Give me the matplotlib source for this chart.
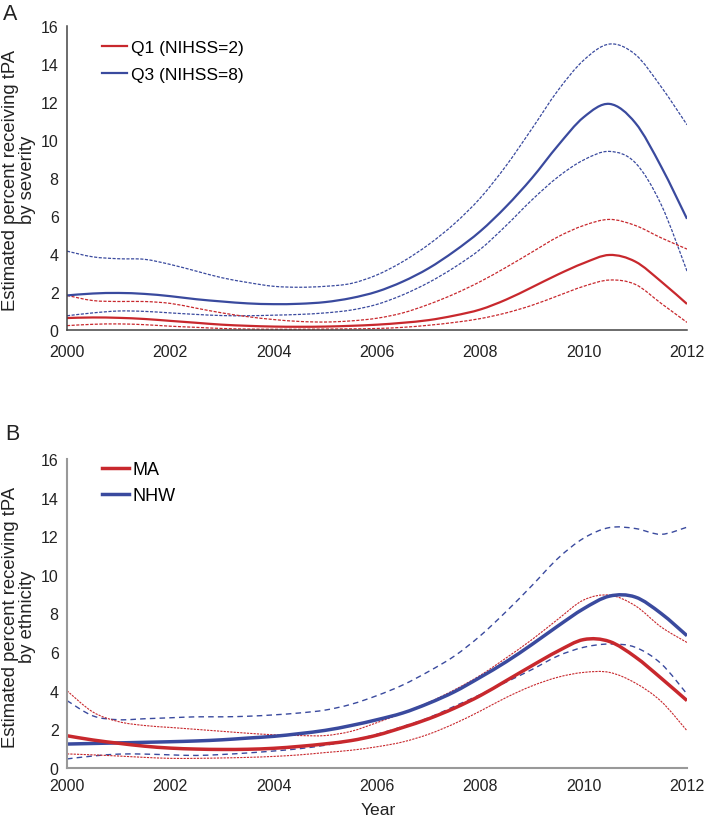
import numpy as np
import matplotlib as mpl
mpl.use("Agg")
import matplotlib.pyplot as plt
from matplotlib.path import Path
from matplotlib.patches import PathPatch
from matplotlib.lines import Line2D

mpl.rcParams['font.family'] = ['Liberation Sans', 'DejaVu Sans']

# ---- data ----
years = [2000 + 0.5 * i for i in range(25)]

# panel A: by severity
q1_mid = [0.63, 0.66, 0.64, 0.58, 0.48, 0.38, 0.28, 0.22, 0.18, 0.17, 0.18, 0.22, 0.28,
          0.38, 0.52, 0.76, 1.08, 1.60, 2.25, 2.92, 3.52, 3.95, 3.60, 2.55, 1.37]
q1_hi = [1.82, 1.55, 1.50, 1.50, 1.40, 1.15, 0.90, 0.70, 0.55, 0.45, 0.42, 0.48, 0.62,
         0.90, 1.35, 1.90, 2.55, 3.30, 4.10, 4.90, 5.50, 5.82, 5.50, 4.85, 4.26]
q1_lo = [0.23, 0.30, 0.32, 0.28, 0.20, 0.14, 0.08, 0.05, 0.04, 0.04, 0.05, 0.06, 0.08,
         0.14, 0.25, 0.40, 0.60, 0.90, 1.30, 1.80, 2.30, 2.63, 2.40, 1.40, 0.40]
q3_mid = [1.82, 1.92, 1.95, 1.90, 1.78, 1.62, 1.50, 1.40, 1.36, 1.38, 1.47, 1.68, 2.02,
          2.55, 3.25, 4.15, 5.20, 6.50, 8.00, 9.70, 11.2, 11.9, 10.9, 8.60, 5.85]
q3_hi = [4.15, 3.85, 3.75, 3.72, 3.45, 3.10, 2.75, 2.50, 2.30, 2.25, 2.30, 2.45, 2.90,
         3.60, 4.50, 5.60, 6.95, 8.65, 10.6, 12.6, 14.2, 15.05, 14.5, 12.8, 10.8]
q3_lo = [0.75, 0.90, 1.00, 0.98, 0.90, 0.82, 0.76, 0.75, 0.78, 0.82, 0.90, 1.05, 1.35,
         1.85, 2.50, 3.30, 4.25, 5.50, 6.85, 8.05, 8.95, 9.40, 8.80, 6.60, 3.10]

# panel B: by ethnicity
ma_mid = [1.67, 1.45, 1.28, 1.13, 1.03, 0.98, 0.96, 0.97, 1.02, 1.12, 1.25, 1.42, 1.70,
          2.10, 2.55, 3.10, 3.75, 4.52, 5.30, 6.05, 6.65, 6.55, 5.75, 4.65, 3.49]
ma_hi = [4.00, 2.90, 2.40, 2.20, 2.10, 2.00, 1.90, 1.80, 1.72, 1.68, 1.68, 1.90, 2.35,
         2.85, 3.40, 4.05, 4.80, 5.70, 6.65, 7.70, 8.70, 8.95, 8.40, 7.30, 6.50]
ma_lo = [0.73, 0.68, 0.62, 0.55, 0.50, 0.50, 0.52, 0.55, 0.60, 0.68, 0.80, 0.92, 1.10,
         1.35, 1.75, 2.30, 2.95, 3.65, 4.25, 4.70, 4.95, 4.95, 4.40, 3.45, 1.93]
nhw_mid = [1.24, 1.27, 1.30, 1.33, 1.36, 1.40, 1.46, 1.55, 1.64, 1.78, 1.95, 2.20, 2.50,
           2.85, 3.35, 3.95, 4.70, 5.50, 6.40, 7.35, 8.25, 8.90, 8.85, 8.00, 6.85]
nhw_hi = [3.49, 2.70, 2.50, 2.55, 2.60, 2.65, 2.65, 2.68, 2.75, 2.85, 3.00, 3.30, 3.75,
          4.30, 5.00, 5.80, 6.85, 8.10, 9.45, 10.85, 11.9, 12.45, 12.4, 12.1, 12.47]
nhw_lo = [0.47, 0.62, 0.72, 0.72, 0.68, 0.65, 0.70, 0.78, 0.88, 1.00, 1.18, 1.42, 1.75,
          2.15, 2.60, 3.20, 3.80, 4.45, 5.10, 5.80, 6.25, 6.42, 6.25, 5.40, 3.83]

xticks = [2000, 2002, 2004, 2006, 2008, 2010, 2012]
yticks = [0, 2, 4, 6, 8, 10, 12, 14, 16]

RED = '#c8282d'
BLUE = '#3a4a9e'


# smoothed line like a spreadsheet "smooth line" (bezier through the points)
def smooth_line(ax, xs, ys, **kw):
    pts = np.column_stack([xs, ys])
    n = len(pts)
    verts = [pts[0]]
    codes = [Path.MOVETO]
    for i in range(n - 1):
        p0 = pts[max(i - 1, 0)]
        p1 = pts[i]
        p2 = pts[i + 1]
        p3 = pts[min(i + 2, n - 1)]
        verts += [p1 + (p2 - p0) / 6.0, p2 - (p3 - p1) / 6.0, p2]
        codes += [Path.CURVE4] * 3
    patch = PathPatch(Path(verts, codes), fill=False, capstyle='butt', joinstyle='round', **kw)
    ax.add_patch(patch)
    return patch


fig = plt.figure(figsize=(7.11, 8.2), dpi=100)
W, H = 711.0, 820.0

axA = fig.add_axes([67 / W, (H - 331) / H, 620 / W, 304 / H])
axB = fig.add_axes([67 / W, (H - 769) / H, 620 / W, 309 / H])


def style_axes(ax, spine_col, spine_lw, xpad):
    for s in ['top', 'right']:
        ax.spines[s].set_visible(False)
    for s in ['left', 'bottom']:
        ax.spines[s].set_color(spine_col)
        ax.spines[s].set_linewidth(spine_lw)
    ax.set_xlim(2000, 2012)
    ax.set_ylim(0, 16)
    ax.set_xticks(xticks)
    ax.set_yticks(yticks)
    ax.tick_params(axis='x', length=0, pad=xpad, labelsize=11.5, labelcolor='#222222')
    ax.tick_params(axis='y', length=0, pad=6, labelsize=11.5, labelcolor='#222222')


# panel A
dash_a = (0, (2.5, 1.2))
smooth_line(axA, years, q3_hi, edgecolor=BLUE, lw=0.9, linestyle=dash_a)
smooth_line(axA, years, q3_lo, edgecolor=BLUE, lw=0.9, linestyle=dash_a)
smooth_line(axA, years, q1_hi, edgecolor=RED, lw=0.9, linestyle=dash_a)
smooth_line(axA, years, q1_lo, edgecolor=RED, lw=0.9, linestyle=dash_a)
smooth_line(axA, years, q1_mid, edgecolor=RED, lw=1.6)
smooth_line(axA, years, q3_mid, edgecolor=BLUE, lw=1.6)
style_axes(axA, '#444444', 1.1, 10)
hA = [Line2D([], [], color=RED, lw=1.6), Line2D([], [], color=BLUE, lw=1.6)]
axA.legend(hA, ['Q1 (NIHSS=2)', 'Q3 (NIHSS=8)'], loc='upper left',
           bbox_to_anchor=(0.045, 0.977), frameon=False,
           fontsize=12.5, handlelength=1.45, handletextpad=0.25, labelspacing=0.7,
           borderaxespad=0)

# panel B
dash_blue = (0, (4, 3))
dash_red = (0, (2, 1))
smooth_line(axB, years, nhw_hi, edgecolor=BLUE, lw=1.0, linestyle=dash_blue)
smooth_line(axB, years, nhw_lo, edgecolor=BLUE, lw=1.0, linestyle=dash_blue)
smooth_line(axB, years, ma_hi, edgecolor=RED, lw=0.8, linestyle=dash_red)
smooth_line(axB, years, ma_lo, edgecolor=RED, lw=0.8, linestyle=dash_red)
smooth_line(axB, years, nhw_mid, edgecolor=BLUE, lw=2.5)
smooth_line(axB, years, ma_mid, edgecolor=RED, lw=2.5)
style_axes(axB, '#999999', 1.5, 7)
hB = [Line2D([], [], color=RED, lw=2.5), Line2D([], [], color=BLUE, lw=2.5)]
axB.legend(hB, ['MA', 'NHW'], loc='upper left', bbox_to_anchor=(0.045, 1.016), frameon=False,
           fontsize=13, handlelength=1.5, handletextpad=0.2, labelspacing=0.5,
           borderaxespad=0)

# labels
fig.text(19 / W, 1 - 180 / H, 'Estimated percent receiving tPA\nby severity', rotation=90,
         ha='center', va='center', multialignment='center', fontsize=13.3,
         linespacing=1.0, color='#222222')
fig.text(19 / W, 1 - 617 / H, 'Estimated percent receiving tPA\nby ethnicity', rotation=90,
         ha='center', va='center', multialignment='center', fontsize=13.3,
         linespacing=1.0, color='#222222')
fig.text(378 / W, 1 - 811 / H, 'Year', ha='center', va='center', fontsize=12.6, color='#222222')
fig.text(3 / W, 1 - 15 / H, 'A', ha='left', va='center', fontsize=15.5, color='#222222')
fig.text(5 / W, 1 - 435 / H, 'B', ha='left', va='center', fontsize=15.5, color='#222222')

fig.savefig('out.png', dpi=100)
